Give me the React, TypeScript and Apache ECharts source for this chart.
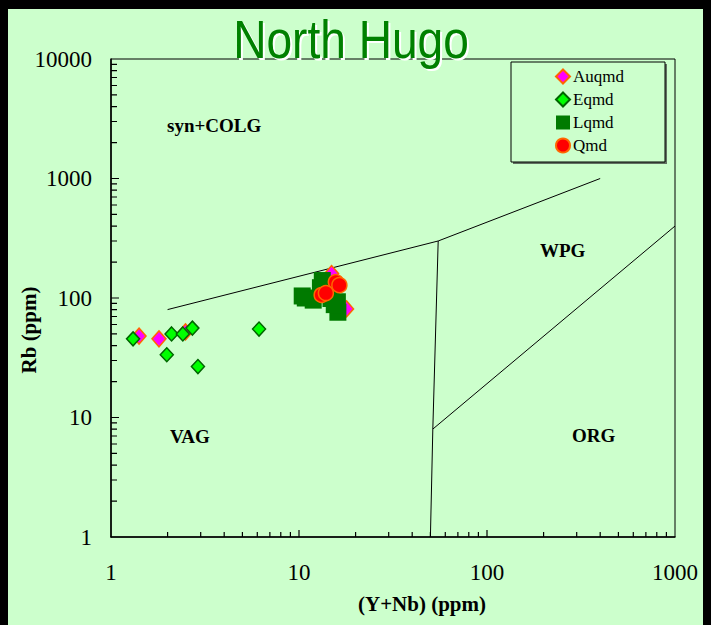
import React, { useEffect, useRef } from "react";
import * as echarts from "echarts";

// Sample groups: (Y+Nb) in ppm and Rb in ppm
const auqmdYNb = [1.41, 1.8, 2.49, 15.2, 14.9, 17.9];
const auqmdRb = [48, 45.5, 52, 113, 160, 81];

const eqmdYNb = [1.31, 2.1, 2.41, 2.71, 1.98, 2.9, 6.13];
const eqmdRb = [45.5, 50, 50, 56, 33.5, 26.7, 55];

const lqmdYNb = [10.4, 10.8, 11.9, 13.3, 13.0, 13.6, 14.8, 16.0, 16.1, 15.4];
const lqmdRb = [104, 100, 96, 140, 122, 108, 99, 93, 76, 88];

const qmdYNb = [15.7, 16.4, 13.2, 13.9];
const qmdRb = [136, 128, 106, 110];

// Discrimination field boundaries (Y+Nb, Rb)
const boundaryUpperYNb = [2, 55, 400];
const boundaryUpperRb = [80, 300, 1000];
const boundaryVertYNb = [55, 51.5, 50];
const boundaryVertRb = [300, 8, 1];
const boundaryOrgYNb = [51.5, 1000];
const boundaryOrgRb = [8, 400];

const xTickLabels = [1, 10, 100, 1000];
const yTickLabels = [1, 10, 100, 1000, 10000];

const xDecades = [1, 10, 100];
const yDecades = [1, 10, 100, 1000];
const minorSteps = [2, 3, 4, 5, 6, 7, 8, 9];

const zip = (xs: number[], ys: number[]) => xs.map((x, i) => [x, ys[i]]);

const xMinorTicks = xDecades.flatMap((d) => minorSteps.map((m) => d * m));
const xMajorTicks = xDecades.slice(1);
const yMinorTicks = yDecades.flatMap((d) => minorSteps.map((m) => d * m));
const yMajorTicks = yDecades.slice(1);

const serif = '"Liberation Serif", "Times New Roman", serif';

// plot span in pixels per decade, used to turn tick lengths into log-space factors
const X_PX_PER_DECADE = 188;
const Y_PX_PER_DECADE = 119.5;
const factor = (px: number, perDecade: number) => Math.pow(10, px / perDecade);

// tick marks as broken line segments that start on the axis and point inward
function xTickSegments(values: number[], lenPx: number) {
  const f = factor(lenPx, Y_PX_PER_DECADE);
  const out: any[] = [];
  values.forEach((v) => {
    out.push([v, 1], [v, f], "-");
  });
  return out;
}
function yTickSegments(values: number[], lenPx: number) {
  const f = factor(lenPx, X_PX_PER_DECADE);
  const out: any[] = [];
  values.forEach((v) => {
    out.push([1, v], [f, v], "-");
  });
  return out;
}

const tickSeries = (data: any[]) => ({
  type: "line",
  silent: true,
  data,
  symbol: "none",
  connectNulls: false,
  clip: false,
  lineStyle: { color: "#000", width: 1.2 },
  z: 5,
});

export default function App() {
  const ref = useRef<HTMLDivElement>(null);

  useEffect(() => {
    document.body.style.margin = "0";
    const chart = echarts.init(ref.current!, null, { renderer: "svg" });

    const option: any = {
      animation: false,
      backgroundColor: "#ccffcc",
      grid: {
        left: 111,
        right: 36,
        top: 59,
        bottom: 88,
        show: true,
        borderColor: "#000",
        borderWidth: 1,
        backgroundColor: "transparent",
      },
      xAxis: {
        type: "log",
        logBase: 10,
        min: 1,
        max: 1000,
        axisLine: { show: true, lineStyle: { color: "#000", width: 1.5 } },
        axisTick: { show: false },
        splitLine: { show: false },
        axisLabel: {
          margin: 24,
          fontFamily: serif,
          fontSize: 23,
          color: "#000",
          customValues: xTickLabels,
          formatter: (v: number) => String(Math.round(v)),
        },
      },
      yAxis: {
        type: "log",
        logBase: 10,
        min: 1,
        max: 10000,
        axisLine: { show: true, lineStyle: { color: "#000", width: 1.5 } },
        axisTick: { show: false },
        splitLine: { show: false },
        axisLabel: {
          margin: 19,
          fontFamily: serif,
          fontSize: 23,
          color: "#000",
          customValues: yTickLabels,
          formatter: (v: number) => String(Math.round(v)),
        },
      },
      legend: {
        orient: "vertical",
        left: 555,
        top: 68,
        itemWidth: 14,
        itemHeight: 14,
        itemGap: 6,
        padding: 0,
        data: ["Auqmd", "Eqmd", "Lqmd", "Qmd"],
        textStyle: { fontFamily: serif, fontSize: 17, color: "#000", padding: [0, 0, 0, -2] },
      },
      graphic: [
        // dark frame strips
        { type: "rect", shape: { x: 0, y: 0, width: 8, height: 625 }, style: { fill: "#000" }, z: 1 },
        { type: "rect", shape: { x: 0, y: 0, width: 711, height: 9 }, style: { fill: "#000" }, z: 1 },
        { type: "rect", shape: { x: 703, y: 0, width: 8, height: 625 }, style: { fill: "#000" }, z: 1 },
        // title with light drop shadow
        {
          type: "text", x: 353, y: 42, scaleX: 0.87, z: 50,
          style: {
            x: 0, y: 0, text: "North Hugo", textAlign: "center", textVerticalAlign: "middle",
            font: '53px "Liberation Sans", Arial, sans-serif', fill: "#ffffff",
          },
        },
        {
          type: "text", x: 351, y: 40, scaleX: 0.87, z: 51,
          style: {
            x: 0, y: 0, text: "North Hugo", textAlign: "center", textVerticalAlign: "middle",
            font: '53px "Liberation Sans", Arial, sans-serif', fill: "#008000",
          },
        },
        // legend frame
        { type: "rect", shape: { x: 513, y: 64, width: 154, height: 100 }, style: { fill: "#333", opacity: 0.7 }, z: 3 },
        { type: "rect", shape: { x: 511, y: 62, width: 154, height: 100 }, style: { fill: "#ccffcc", stroke: "#000", lineWidth: 1 }, z: 4 },
        // field labels
        { type: "text", z: 20, style: { x: 167, y: 125, text: "syn+COLG", textVerticalAlign: "middle", font: `bold 19px ${serif}`, fill: "#000" } },
        { type: "text", z: 20, style: { x: 540, y: 250, text: "WPG", textVerticalAlign: "middle", font: `bold 19px ${serif}`, fill: "#000" } },
        { type: "text", z: 20, style: { x: 170, y: 436, text: "VAG", textVerticalAlign: "middle", font: `bold 19px ${serif}`, fill: "#000" } },
        { type: "text", z: 20, style: { x: 572, y: 435, text: "ORG", textVerticalAlign: "middle", font: `bold 19px ${serif}`, fill: "#000" } },
        // axis titles
        {
          type: "text", z: 20,
          style: { x: 422, y: 604, text: "(Y+Nb) (ppm)", textAlign: "center", textVerticalAlign: "middle", font: `bold 21px ${serif}`, fill: "#000" },
        },
        {
          type: "text", z: 20, x: 29, y: 330, rotation: Math.PI / 2,
          style: { x: 0, y: 0, text: "Rb (ppm)", textAlign: "center", textVerticalAlign: "middle", font: `bold 21px ${serif}`, fill: "#000" },
        },
      ],
      series: [
        tickSeries(xTickSegments(xMinorTicks, 5)),
        tickSeries(xTickSegments(xMajorTicks, 7)),
        tickSeries(yTickSegments(yMinorTicks, 6)),
        tickSeries(yTickSegments(yMajorTicks, 8)),
        {
          name: "boundary-upper",
          type: "line",
          data: zip(boundaryUpperYNb, boundaryUpperRb),
          symbol: "none",
          lineStyle: { color: "#000", width: 1 },
          z: 3,
        },
        {
          name: "boundary-vert",
          type: "line",
          data: zip(boundaryVertYNb, boundaryVertRb),
          symbol: "none",
          lineStyle: { color: "#000", width: 1 },
          z: 3,
        },
        {
          name: "boundary-org",
          type: "line",
          data: zip(boundaryOrgYNb, boundaryOrgRb),
          symbol: "none",
          lineStyle: { color: "#000", width: 1 },
          z: 3,
        },
        {
          name: "Auqmd",
          type: "scatter",
          data: zip(auqmdYNb, auqmdRb),
          symbol: "diamond",
          symbolSize: [14, 16],
          itemStyle: { color: "#ff00ff", borderColor: "#ff6600", borderWidth: 1.5, opacity: 1 },
          z: 6,
        },
        {
          name: "Eqmd",
          type: "scatter",
          data: zip(eqmdYNb, eqmdRb),
          symbol: "diamond",
          symbolSize: [13, 14],
          itemStyle: { color: "#00ff00", borderColor: "#006600", borderWidth: 1.5, opacity: 1 },
          z: 7,
        },
        {
          name: "Lqmd",
          type: "scatter",
          data: zip(lqmdYNb, lqmdRb),
          symbol: "rect",
          symbolSize: 17,
          itemStyle: { color: "#007a00", opacity: 1 },
          z: 8,
        },
        {
          name: "Qmd",
          type: "scatter",
          data: zip(qmdYNb, qmdRb),
          symbol: "circle",
          symbolSize: 15,
          itemStyle: { color: "#ff0000", borderColor: "#ff6600", borderWidth: 1.5, opacity: 1 },
          z: 9,
        },
      ],
    };

    chart.setOption(option);
    return () => chart.dispose();
  }, []);

  return <div ref={ref} style={{ width: 711, height: 625 }} />;
}
